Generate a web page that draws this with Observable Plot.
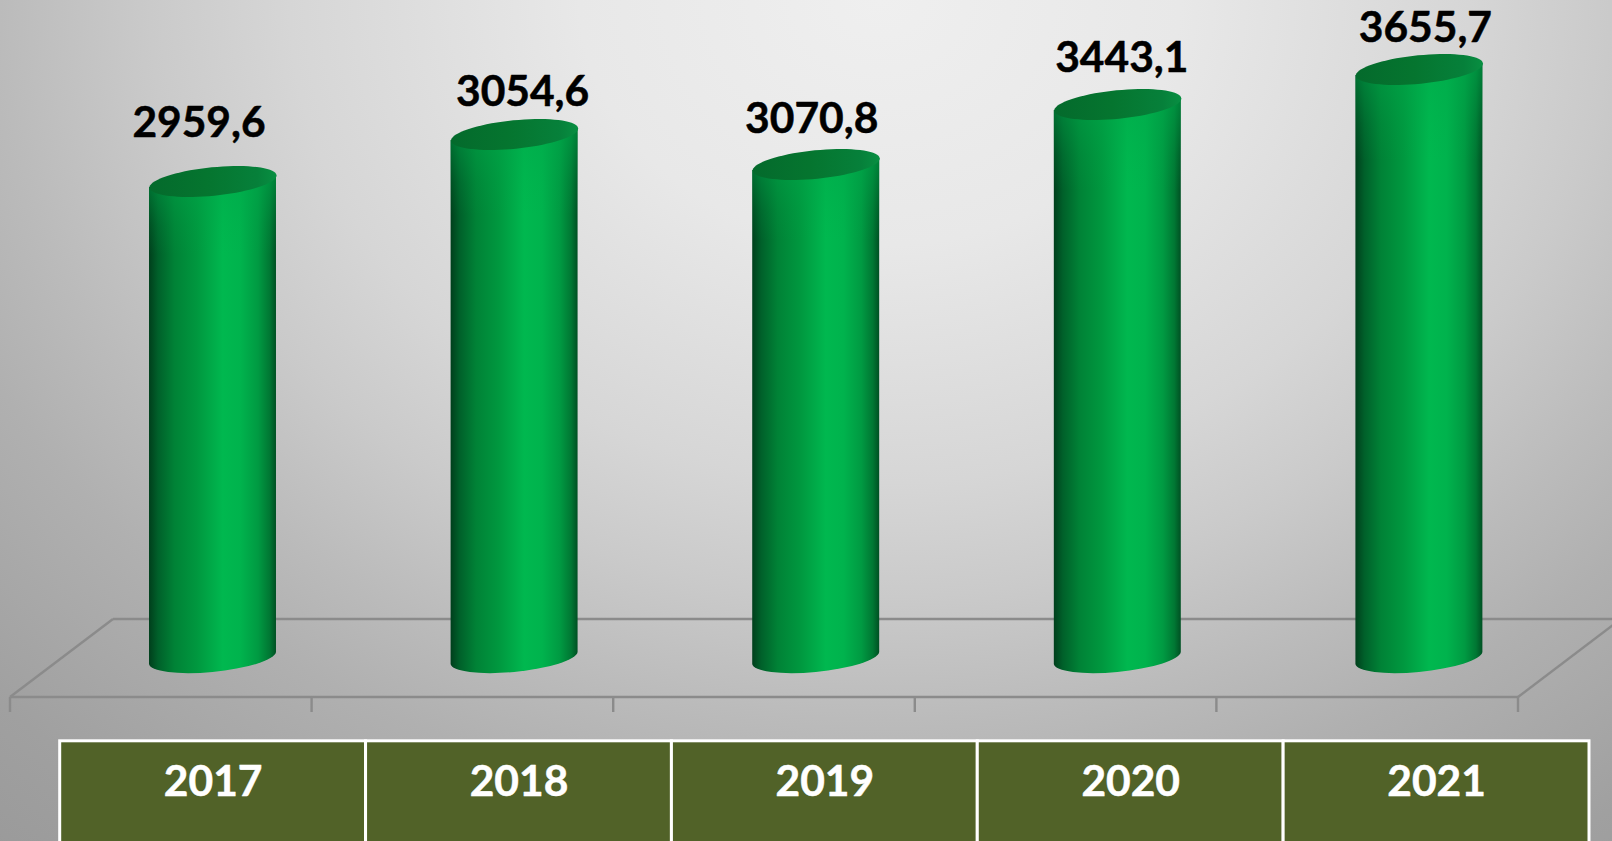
<!DOCTYPE html>
<html>
<head>
<meta charset="utf-8">
<script src="https://cdn.jsdelivr.net/npm/d3@7"></script>
<script src="https://cdn.jsdelivr.net/npm/@observablehq/plot@0.6"></script>
<style>
html,body{margin:0;padding:0;width:1612px;height:841px;overflow:hidden}
#chart{width:1612px;height:841px;background:radial-gradient(ellipse 1000px 818px at 880px 0px,#efefef 0%,#e8e8e8 30%,#d6d6d6 59%,#cacaca 73%,#bbbbbb 88%,#b0b0b0 100%,#a0a0a0 123%,#999999 139%)}
#chart svg{display:block;background:transparent}
</style>
</head>
<body>
<div id="chart"></div>
<script>
const years = ["2017", "2018", "2019", "2020", "2021"];
const values = [2959.6, 3054.6, 3070.8, 3443.1, 3655.7];
// Drawn cylinder heights (not proportional to the printed values)
const drawnHeights = [477, 524, 494, 554, 589];

const labelNudge = [[-14, -58], [8, -42], [-4.5, -45], [4, -46], [6, -41]];
const depth = {x: 103, y: 78};
const FONT = "Lato, Carlito, sans-serif";
const rows = years.map((year, i) => ({year, value: values[i], height: drawnHeights[i]}));
const fmt = v => v.toFixed(1).replace(".", ",");

// tilted ellipse of the cylinder caps
const ell = {a: 63.8, b: 14.2, rot: -5.66, dy: 6};
const tiltedEllipse = {
  draw(ctx) {
    const t = ell.rot * Math.PI / 180;
    for (let k = 0; k < 72; ++k) {
      const u = k / 72 * 2 * Math.PI;
      const px = ell.a * Math.cos(u), py = ell.b * Math.sin(u);
      const X = px * Math.cos(t) - py * Math.sin(t), Y = px * Math.sin(t) + py * Math.cos(t);
      k ? ctx.lineTo(X, Y) : ctx.moveTo(X, Y);
    }
    ctx.closePath();
  }
};

const NS = "http://www.w3.org/2000/svg";
function gradient(id, stops, extra = {}) {
  const g = document.createElementNS(NS, "linearGradient");
  g.setAttribute("id", id);
  Object.entries(extra).forEach(([k, v]) => g.setAttribute(k, v));
  stops.forEach(([o, c, a]) => {
    const s = document.createElementNS(NS, "stop");
    s.setAttribute("offset", o);
    s.setAttribute("stop-color", c);
    if (a !== undefined) s.setAttribute("stop-opacity", a);
    g.appendChild(s);
  });
  return g;
}

function defsMark() {
  const d = document.createElementNS(NS, "defs");
  d.appendChild(gradient("cyl", [[0, "#003f1c"], [.07, "#00602a"], [.2, "#008236"], [.38, "#00983f"], [.58, "#00b84f"], [.72, "#00b34d"], [.86, "#009a42"], [.95, "#007733"], [1, "#005023"]]));
  d.appendChild(gradient("sheen", [[0, "#00a84a", .55], [.1, "#00a84a", .15], [.16, "#00a84a", 0]], {x1: 0, y1: 0, x2: 0, y2: 1}));
  d.appendChild(gradient("cap", [[0, "#046a2c"], [.45, "#05752f"], [.85, "#06803a"], [1, "#088f42"]]));
  return d;
}

function floorMark(index, {x, y}) {
  const g = document.createElementNS(NS, "g");
  g.setAttribute("stroke", "#8b8b8b");
  g.setAttribute("stroke-width", 2.4);
  g.setAttribute("fill", "none");
  const step = x.step();
  const edges = [...years.map(d => x(d) + x.bandwidth() / 2 - step / 2), x(years[4]) + x.bandwidth() / 2 + step / 2];
  const front = y(-39), tick = y(-54), x0 = edges[0], x1 = edges[5];
  const seg = (a, b, c, e) => {
    const l = document.createElementNS(NS, "line");
    l.setAttribute("x1", a); l.setAttribute("y1", b); l.setAttribute("x2", c); l.setAttribute("y2", e);
    g.appendChild(l);
  };
  seg(x0, front, x1, front);
  seg(x0, front, x0 + depth.x, front - depth.y);
  seg(x1, front, x1 + depth.x, front - depth.y);
  seg(x0 + depth.x, front - depth.y, x1 + depth.x, front - depth.y);
  edges.forEach(e => seg(e, front, e, tick));
  return g;
}

function cylinderRender(index, scales, channels, dims, ctx, next) {
  const g = next(index, scales, channels, dims, ctx);
  g.querySelectorAll("rect").forEach(r => {
    const X = +r.getAttribute("x"), Y = +r.getAttribute("y"), W = +r.getAttribute("width"), H = +r.getAttribute("height");
    const d = `M${X},${Y + ell.dy}L${X + W},${Y - ell.dy}V${Y + H - ell.dy}A${ell.a},${ell.b} ${ell.rot} 0 1 ${X},${Y + H + ell.dy}Z`;
    const p = document.createElementNS(NS, "path");
    p.setAttribute("d", d);
    const s = document.createElementNS(NS, "path");
    s.setAttribute("d", d);
    s.setAttribute("fill", "url(#sheen)");
    r.replaceWith(p, s);
  });
  return g;
}

const barShift = 51.7;
const chart = Plot.plot({
  width: 1612, height: 738,
  margin: 0,
  style: {background: "transparent"},
  x: {domain: years, range: [10, 1518], paddingInner: 0.579, paddingOuter: 0.2895, round: false, axis: null},
  y: {domain: [0, 600], range: [658, 58], axis: null},
  marks: [
    defsMark,
    floorMark,
    Plot.barY(rows, {x: "year", y: "height", dx: barShift, fill: "url(#cyl)", render: cylinderRender}),
    Plot.dot(rows, {x: "year", y: "height", dx: barShift, r: 10, symbol: tiltedEllipse, fill: "url(#cap)", stroke: "none"}),
    ...rows.map((d, i) => Plot.text([d], {
      x: "year", y: "height", text: r => fmt(r.value),
      dx: barShift + labelNudge[i][0], dy: labelNudge[i][1],
      fontFamily: FONT, fontWeight: 700, fontSize: 42.5, fill: "#000", stroke: "#000", strokeWidth: 0.5
    }))
  ]
});

const table = Plot.plot({
  width: 1612, height: 103,
  margin: 0,
  style: {background: "transparent"},
  x: {domain: years, range: [59.7, 1589], padding: 0, round: false, axis: null},
  y: {domain: ["row"], range: [2.8, 160], padding: 0, round: false, axis: null},
  marks: [
    Plot.cell(years, {x: d => d, y: () => "row", fill: "#516228", stroke: "#ffffff", strokeWidth: 3}),
    Plot.text(years, {x: d => d, frameAnchor: "top", lineAnchor: "middle", dy: 44, text: d => d, fontFamily: FONT, fontWeight: 700, fontSize: 42.5, fill: "#ffffff", stroke: "#ffffff", strokeWidth: 0.5})
  ]
});

document.getElementById("chart").append(chart, table);
</script>
</body>
</html>
